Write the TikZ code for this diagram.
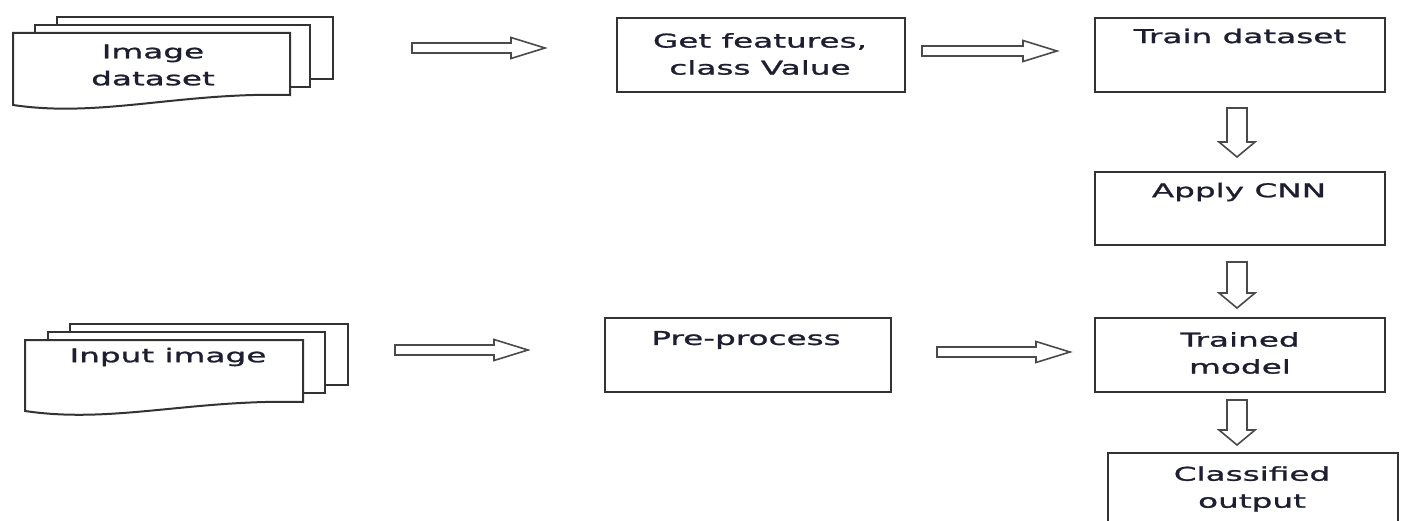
\documentclass[tikz,border=0pt]{standalone}
\usepackage{fontspec}
\setmainfont{DejaVu Sans}[FakeStretch=1.72, FakeBold=1.2]
\usetikzlibrary{calc}
\definecolor{linegray}{HTML}{333333}
\definecolor{arrowgray}{HTML}{4A4A4A}
\definecolor{textdark}{HTML}{1E1E32}

\begin{document}
\begin{tikzpicture}[
    x=1pt, y=-1pt,
    box/.style={
        draw=linegray,
        line width=2pt,
        minimum width=290pt,
        minimum height=74pt,
        inner sep=0pt
    },
    sheet/.style={draw=linegray, line width=2pt, fill=white},
    txt/.style={
        text=textdark,
        font=\fontsize{19}{27}\selectfont,
        align=center,
        inner sep=0pt
    },
    blockarrow/.style={draw=arrowgray, line width=1.6pt, line join=miter, fill=white}
]
    \useasboundingbox (0,0) rectangle (1405,521);
    \clip (0,0) rectangle (1405,521);

    % image dataset stack
    \draw[sheet] (57,17) rectangle (333,79);
    \draw[sheet] (35,25) rectangle (310,87);
    \draw[sheet] (13,33) -- (290,33) -- (290,95)
        .. controls (180,92) and (100,118) .. (13,105) -- cycle;
    \node[txt] (img) at (153,65) {Image\\dataset};

    % input image stack
    \draw[sheet] (70,324) rectangle (348,385);
    \draw[sheet] (48,332) rectangle (325,393);
    \draw[sheet] (25,340) -- (303,340) -- (303,402)
        .. controls (192,399) and (112,424) .. (25,411) -- cycle;
    \node[txt] (inp) at (168,357) {Input image};

    \node[box, minimum width=288pt] (getf) at (761,55) {};
    \node[box] (train) at (1240,55) {};
    \node[box, minimum height=73pt] (cnn) at (1240,208.5) {};
    \node[box] (trained) at (1240,355) {};
    \node[box, minimum width=286pt] (pre) at (748,355) {};
    \node[box] (classified) at (1253,490) {};

    \node[txt] (getf-txt) at (760,54) {Get features,\\class Value};
    \node[txt] (train-txt) at (1240,36) {Train dataset};
    \node[txt] (cnn-txt) at (1239,192) {Apply CNN};
    \node[txt] (trained-txt) at (1240,353) {Trained\\model};
    \node[txt] (pre-txt) at (746,340) {Pre-process};
    \node[txt] (classified-txt) at (1252,489) {Classified\\output};

    \coordinate (a1s) at (412,48);
    \coordinate (a1e) at (545,48);
    \coordinate (a2s) at (922,51);
    \coordinate (a2e) at (1057,51);
    \coordinate (a3s) at (395,350);
    \coordinate (a3e) at (528,350);
    \coordinate (a4s) at (937,352);
    \coordinate (a4e) at (1070,352);

    \coordinate (v1s) at (1237,108);
    \coordinate (v1e) at (1237,157);
    \coordinate (v2s) at (1237,262);
    \coordinate (v2e) at (1237,308);
    \coordinate (v3s) at (1237,400);
    \coordinate (v3e) at (1237,445);

    \foreach \src/\dst in {a1s/a1e, a2s/a2e, a3s/a3e, a4s/a4e}
        \draw[blockarrow] let \p1 = (\src), \p2 = (\dst) in
            (\x1,\y1+5pt) -- (\x2-34pt,\y1+5pt) -- (\x2-34pt,\y1+10.5pt)
            -- (\x2,\y1) -- (\x2-34pt,\y1-10.5pt) -- (\x2-34pt,\y1-5pt)
            -- (\x1,\y1-5pt) -- cycle;

    \foreach \src/\dst in {v1s/v1e, v2s/v2e, v3s/v3e}
        \draw[blockarrow] let \p1 = (\src), \p2 = (\dst) in
            (\x1-10pt,\y1) -- (\x1+10pt,\y1) -- (\x1+10pt,\y2+15pt)
            -- (\x1+18pt,\y2+15pt) -- (\x1,\y2) -- (\x1-18pt,\y2+15pt)
            -- (\x1-10pt,\y2+15pt) -- cycle;

\end{tikzpicture}
\end{document}
